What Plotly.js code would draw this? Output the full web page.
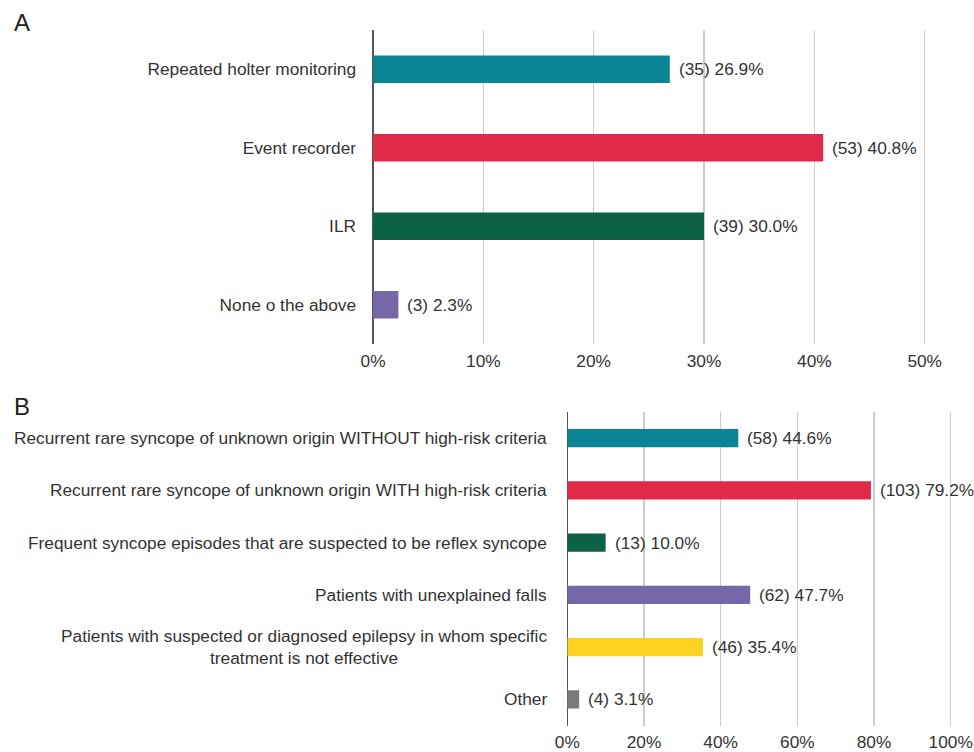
<!DOCTYPE html>
<html>
<head>
<meta charset="utf-8">
<script src="https://cdn.plot.ly/plotly-3.0.1.min.js"></script>
<style>html,body{margin:0;padding:0;background:#fff;}#chart{width:974px;height:752px;}</style>
</head>
<body>
<div id="chart"></div>
<script>
// Panel A data
const catsA = ["Repeated holter monitoring", "Event recorder", "ILR", "None o the above"];
const countsA = [35, 53, 39, 3];
const pctA = [26.9, 40.8, 30.0, 2.3];
const colorsA = ["#0b8494", "#e02a47", "#0c6246", "#7667a9"];

// Panel B data
const catsB = [
  "Recurrent rare syncope of unknown origin WITHOUT high-risk criteria",
  "Recurrent rare syncope of unknown origin WITH high-risk criteria",
  "Frequent syncope episodes that are suspected to be reflex syncope",
  "Patients with unexplained falls",
  "Patients with suspected or diagnosed epilepsy in whom specific<br>treatment is not effective",
  "Other"
];
const countsB = [58, 103, 13, 62, 46, 4];
const pctB = [44.6, 79.2, 10.0, 47.7, 35.4, 3.1];
const colorsB = ["#0b8494", "#e02a47", "#0c6246", "#7667a9", "#fcd21f", "#777b7d"];

const FONT = "Liberation Sans, Arial, Helvetica, sans-serif";
const TXT = "#333333";
const FS = 17.3;
const W = 974, H = 752;

const traceA = {
  type: "bar", orientation: "h",
  x: pctA, y: catsA,
  marker: {color: colorsA},
  width: 0.35,
  xaxis: "x", yaxis: "y",
  hoverinfo: "skip"
};
const traceB = {
  type: "bar", orientation: "h",
  x: pctB, y: catsB,
  marker: {color: colorsB},
  width: 0.35,
  xaxis: "x2", yaxis: "y2",
  hoverinfo: "skip"
};

const annotations = [];
// value labels
catsA.forEach((c, i) => annotations.push({
  xref: "x", yref: "y", x: pctA[i], y: c,
  text: "(" + countsA[i] + ") " + pctA[i].toFixed(1) + "%",
  showarrow: false, xanchor: "left", yanchor: "middle", xshift: 7,
  font: {family: FONT, size: FS, color: TXT}
}));
catsB.forEach((c, i) => annotations.push({
  xref: "x2", yref: "y2", x: pctB[i], y: c,
  text: "(" + countsB[i] + ") " + pctB[i].toFixed(1) + "%",
  showarrow: false, xanchor: "left", yanchor: "middle", xshift: 7,
  font: {family: FONT, size: FS, color: TXT}
}));
// category labels for panel B (centered multi-line)
catsB.forEach((c, i) => annotations.push({
  xref: "x2", yref: "y2", x: 0, y: c,
  text: c, align: "center",
  showarrow: false, xanchor: "right", yanchor: "middle", xshift: -18,
  font: {family: FONT, size: FS, color: TXT}
}));
// panel letters
annotations.push({xref: "paper", yref: "paper", x: 12 / W, y: 1 - 7 / H, text: "A",
  showarrow: false, xanchor: "left", yanchor: "top", font: {family: FONT, size: 24, color: "#222"}});
annotations.push({xref: "paper", yref: "paper", x: 12 / W, y: 1 - 391 / H, text: "B",
  showarrow: false, xanchor: "left", yanchor: "top", font: {family: FONT, size: 24, color: "#222"}});

const axX = {
  showgrid: true, gridcolor: "#cccccc", gridwidth: 1.5,
  zeroline: true, zerolinecolor: "#555555", zerolinewidth: 1.5,
  showline: false, ticks: "", ticksuffix: "%",
  tickfont: {family: FONT, size: FS, color: TXT},
  fixedrange: true
};

const layout = {
  width: W, height: H,
  margin: {l: 0, r: 0, t: 0, b: 0},
  paper_bgcolor: "#ffffff", plot_bgcolor: "#ffffff",
  showlegend: false,
  font: {family: FONT, size: FS, color: TXT},
  xaxis: Object.assign({}, axX, {
    domain: [373 / W, 1], range: [0, 54.47], dtick: 10, tick0: 0, anchor: "y",
    ticklabelstandoff: 5
  }),
  yaxis: {
    domain: [(H - 344) / H, (H - 30) / H], anchor: "x",
    type: "category", range: [3.5, -0.5],
    showgrid: false, zeroline: false, showline: false, ticks: "",
    ticklabelstandoff: 16,
    tickfont: {family: FONT, size: FS, color: TXT}
  },
  xaxis2: Object.assign({}, axX, {
    domain: [567.3 / W, 1], range: [0, 106.08], dtick: 20, tick0: 0, anchor: "y2",
    ticklabelstandoff: 4
  }),
  yaxis2: {
    domain: [(H - 725.5) / H, (H - 412) / H], anchor: "x2",
    type: "category", range: [5.5, -0.5],
    showgrid: false, zeroline: false, showline: false, ticks: "",
    showticklabels: false
  },
  annotations: annotations
};

Plotly.newPlot("chart", [traceA, traceB], layout, {displayModeBar: false, staticPlot: true});
</script>
</body>
</html>
